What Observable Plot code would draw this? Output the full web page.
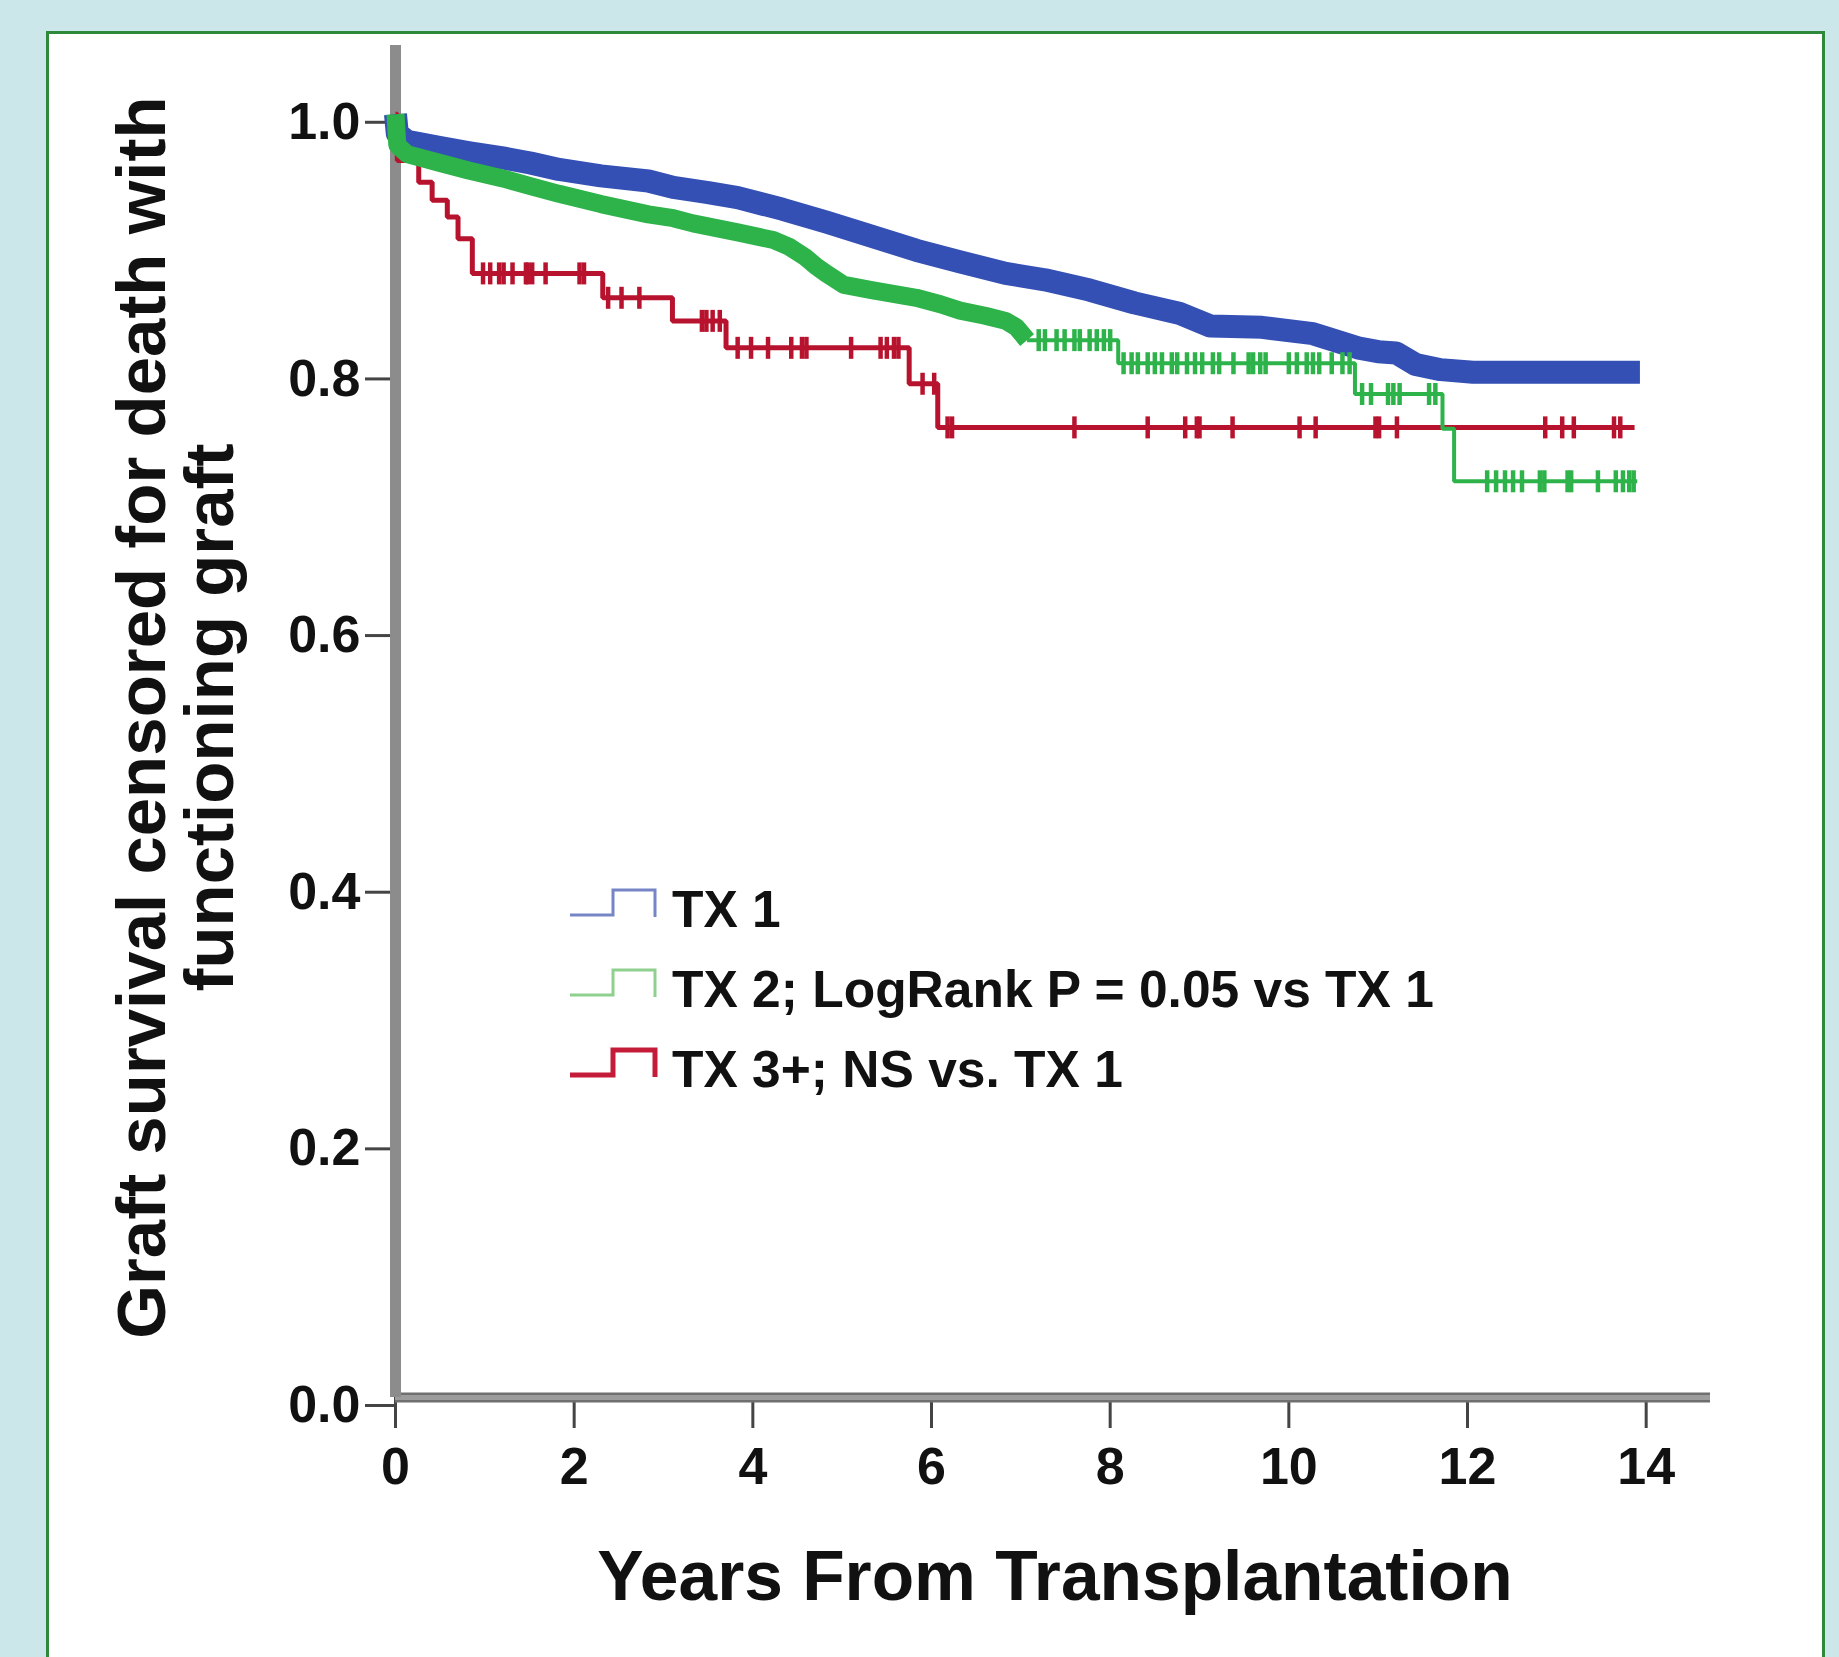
<!DOCTYPE html>
<html>
<head>
<meta charset="utf-8">
<script src="https://cdn.jsdelivr.net/npm/d3@7"></script>
<script src="https://cdn.jsdelivr.net/npm/@observablehq/plot@0.6"></script>
<style>
html, body { margin: 0; padding: 0; width: 1839px; height: 1657px; overflow: hidden; background: #cbe7e9; }
#panel { position: absolute; left: 46px; top: 31px; width: 1779px; height: 1700px; box-sizing: border-box; border: 3px solid #2e8a3a; background: #ffffff; }
#chart { position: absolute; left: 0; top: 0; width: 1839px; height: 1657px; }
#legend { position: absolute; left: 0; top: 0; pointer-events: none; }
</style>
</head>
<body>
<div id="panel"></div>
<div id="chart"></div>
<svg id="legend" width="1839" height="1657"></svg>
<script>
// ---------- data ----------
const seriesNames = ["TX 1", "TX 2; LogRank P = 0.05 vs TX 1", "TX 3+; NS vs. TX 1"];
const seriesColors = ["#3450b4", "#2db34a", "#b8132e"];
const legendGlyphColors = ["#7585c5", "#8fd08f", "#c41c38"];

// TX 1 (Kaplan–Meier, densely censored)
const tx1Time = [0, 0.02, 0.13, 0.5, 0.83, 1.2, 1.51, 1.83, 2.3, 2.83, 3.11, 3.5, 3.83, 4.33, 4.82, 5.33, 5.83, 6.32, 6.83, 7.27, 7.77, 8.27, 8.77, 9.12, 9.7, 10.27, 10.77, 11.0, 11.2, 11.42, 11.7, 12.06, 13.93];
const tx1Surv = [1.0, 0.985, 0.979, 0.974, 0.970, 0.966, 0.962, 0.957, 0.952, 0.948, 0.943, 0.939, 0.935, 0.926, 0.916, 0.905, 0.894, 0.885, 0.876, 0.871, 0.863, 0.853, 0.845, 0.835, 0.834, 0.829, 0.818, 0.815, 0.814, 0.805, 0.801, 0.799, 0.799];

// TX 2
const tx2Time = [0, 0.02, 0.13, 0.5, 0.83, 1.2, 1.51, 1.83, 2.3, 2.83, 3.11, 3.33, 3.83, 4.23, 4.4, 4.58, 4.7, 4.82, 5.02, 5.33, 5.83, 6.1, 6.32, 6.6, 6.83, 6.95, 7.07, 8.09, 10.74, 11.72, 11.85, 13.9];
const tx2Surv = [1.0, 0.976, 0.969, 0.962, 0.956, 0.950, 0.944, 0.938, 0.930, 0.922, 0.919, 0.915, 0.908, 0.902, 0.897, 0.889, 0.882, 0.876, 0.867, 0.863, 0.857, 0.852, 0.847, 0.843, 0.839, 0.834, 0.824, 0.806, 0.782, 0.755, 0.714, 0.714];
const tx2DenseUntil = 7.07; // densely censored part, drawn as a band
const tx2Censor = [7.2, 7.27, 7.4, 7.49, 7.6, 7.66, 7.77, 7.85, 7.93, 8.0,
  8.15, 8.24, 8.31, 8.42, 8.5, 8.58, 8.69, 8.75, 8.86, 8.95, 9.03, 9.15, 9.22, 9.38, 9.55, 9.6, 9.68, 9.74, 10.0, 10.09, 10.2, 10.27, 10.34, 10.48, 10.6, 10.68,
  10.82, 10.92, 11.11, 11.17, 11.24, 11.57, 11.64,
  12.22, 12.32, 12.42, 12.51, 12.61, 12.81, 12.86, 13.12, 13.16, 13.46, 13.66, 13.74, 13.81, 13.86];

// TX 3+
const tx3Time = [0, 0.02, 0.26, 0.41, 0.58, 0.70, 0.86, 2.32, 3.10, 3.70, 5.75, 6.07, 13.87];
const tx3Surv = [1.0, 0.964, 0.947, 0.933, 0.920, 0.903, 0.876, 0.857, 0.839, 0.818, 0.790, 0.756, 0.756];
const tx3Censor = [0.98, 1.06, 1.16, 1.21, 1.31, 1.46, 1.48, 1.53, 1.68, 2.06, 2.11, 2.38, 2.53, 2.73, 3.43, 3.48, 3.55, 3.63,
  3.83, 3.98, 4.17, 4.43, 4.55, 4.60, 5.10, 5.43, 5.50, 5.58, 5.63, 5.90, 6.03, 6.18, 6.23, 7.60, 8.42, 8.84, 8.97, 9.00, 9.37,
  10.12, 10.30, 10.97, 11.01, 11.21, 12.87, 13.06, 13.19, 13.64, 13.71];

const xTicks = [0, 2, 4, 6, 8, 10, 12, 14];
const yTicks = [0, 0.2, 0.4, 0.6, 0.8, 1.0];
const xMax = 14.72;
const yMax = 1.0536;
const xLabel = "Years From Transplantation";
const yLabel = "Graft survival censored for death with\nfunctioning graft";

// ---------- tables ----------
const toRows = (T, S) => T.map((t, i) => ({t, s: S[i]}));
const survAt = (T, S, t) => S[Math.max(0, d3.bisectRight(T, t) - 1)];
const tx1 = toRows(tx1Time, tx1Surv);
const tx2 = toRows(tx2Time, tx2Surv);
const tx3 = toRows(tx3Time, tx3Surv);
const tx2Band = tx2.filter(d => d.t <= tx2DenseUntil);
const tx2Tail = tx2.filter(d => d.t >= tx2DenseUntil);
const tx2Marks = tx2Censor.map(t => ({t, s: survAt(tx2Time, tx2Surv, t)}));
const tx3Marks = tx3Censor.map(t => ({t, s: survAt(tx3Time, tx3Surv, t)}));

// vertical censor tick symbol
const vTick = {
  draw(context, size) {
    const r = Math.sqrt(size / Math.PI);
    context.moveTo(0, -r);
    context.lineTo(0, r);
  }
};

const font = "'Liberation Sans', Arial, Helvetica, sans-serif";

const chart = Plot.plot({
  width: 1839,
  height: 1657,
  marginLeft: 395,
  marginRight: 129,
  marginTop: 45,
  marginBottom: 260,
  x: {domain: [0, xMax]},
  y: {domain: [0, yMax]},
  style: {background: "transparent", fontFamily: font, overflow: "visible"},
  marks: [
    Plot.axisY(yTicks, {tickSize: 30, tickPadding: 5, tickFormat: d3.format(".1f"), fontSize: 52, fontWeight: "bold",
      color: "#111", stroke: "#444", strokeWidth: 3, dy: 8, label: null}),
    Plot.axisX(xTicks, {tickSize: 31, tickPadding: 19, tickFormat: d3.format("d"), fontSize: 52, fontWeight: "bold",
      color: "#111", stroke: "#444", strokeWidth: 3, label: null}),
    Plot.ruleY([0], {x1: () => 0, x2: () => xMax, stroke: "#6f6f6f", strokeWidth: 10}),
    Plot.ruleY([0], {x1: () => 0, x2: () => xMax, stroke: "#9c9c9c", strokeWidth: 5}),
    Plot.ruleX([0], {y1: () => 0, y2: () => yMax, stroke: "#8c8c8c", strokeWidth: 11}),
    // TX 3+
    Plot.line(tx3, {x: "t", y: "s", curve: "step-after", stroke: seriesColors[2], strokeWidth: 5,
      strokeLinecap: "butt", strokeLinejoin: "miter"}),
    Plot.dot(tx3Marks, {x: "t", y: "s", symbol: vTick, r: 11, fill: "none", stroke: seriesColors[2], strokeWidth: 4.5,
      strokeLinecap: "butt"}),
    // TX 1 (densely censored band)
    Plot.line(tx1, {x: "t", y: "s", stroke: seriesColors[0], strokeWidth: 23, strokeLinecap: "butt", strokeLinejoin: "round"}),
    // TX 2
    Plot.line(tx2Band, {x: "t", y: "s", stroke: seriesColors[1], strokeWidth: 18, strokeLinecap: "butt", strokeLinejoin: "round"}),
    Plot.line(tx2Tail, {x: "t", y: "s", curve: "step-after", stroke: seriesColors[1], strokeWidth: 4,
      strokeLinecap: "butt", strokeLinejoin: "miter"}),
    Plot.dot(tx2Marks, {x: "t", y: "s", symbol: vTick, r: 11, fill: "none", stroke: seriesColors[1], strokeWidth: 4.5,
      strokeLinecap: "butt"}),
    // axis titles
    Plot.text([xLabel], {text: d => d, frameAnchor: "bottom", lineAnchor: "bottom", textAnchor: "middle",
      dx: 2, dy: 202, fontSize: 69.5, fontWeight: "bold", fill: "#111"}),
    Plot.text([yLabel], {text: d => d, frameAnchor: "left", lineAnchor: "middle", textAnchor: "middle", rotate: -90,
      lineHeight: 0.98, dx: -218, dy: -4, fontSize: 69, fontWeight: "bold", fill: "#111"})
  ]
});
document.getElementById("chart").appendChild(chart);

// ---------- legend ----------
const legendLeft = 570, legendTop = 927, legendStep = 80;
const lg = d3.select("#legend");
seriesNames.forEach((name, i) => {
  const b = legendTop + i * legendStep;
  lg.append("path")
    .attr("d", `M${legendLeft},${b - 12}H${legendLeft + 43}V${b - 37}H${legendLeft + 85}V${b - 10}`)
    .attr("fill", "none")
    .attr("stroke", legendGlyphColors[i])
    .attr("stroke-width", i === 2 ? 5 : 3);
  lg.append("text")
    .attr("x", legendLeft + 102)
    .attr("y", b)
    .attr("font-family", font)
    .attr("font-weight", "bold")
    .attr("font-size", 51.5)
    .attr("fill", "#111")
    .text(name);
});
</script>
</body>
</html>
